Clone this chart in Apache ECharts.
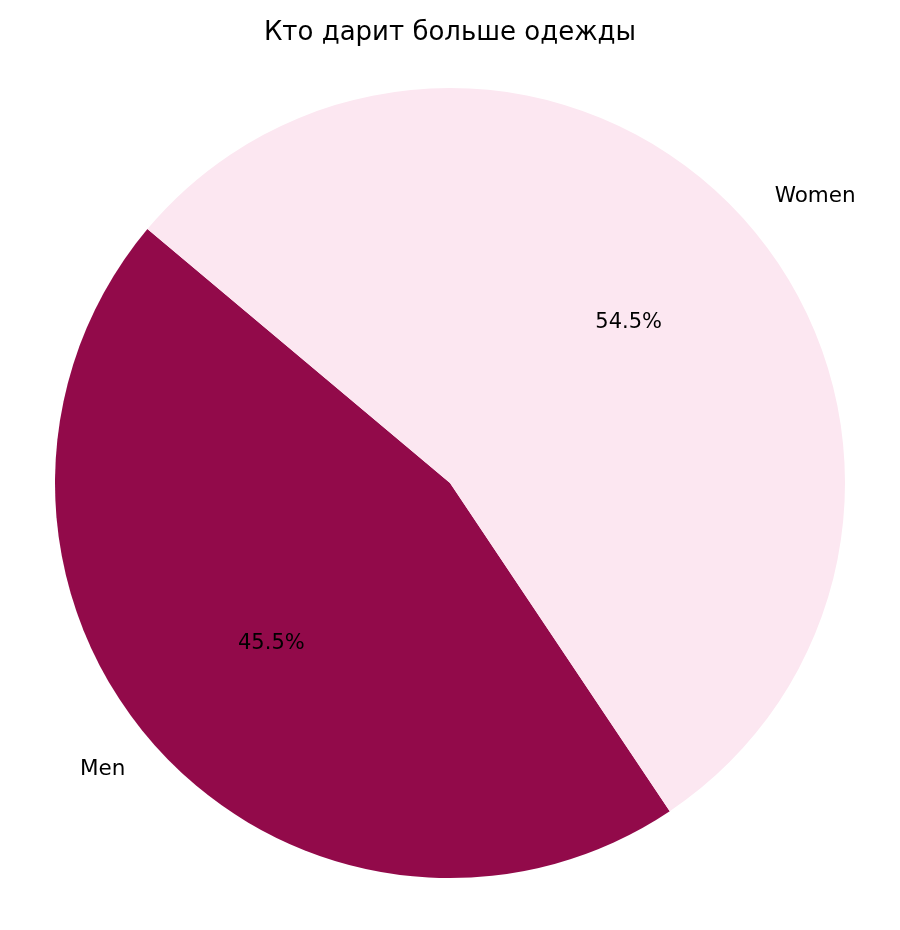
<!DOCTYPE html>
<html>
<head>
<meta charset="utf-8">
<script src="https://cdn.jsdelivr.net/npm/echarts@6/dist/echarts.min.js"></script>
<style>html,body{margin:0;padding:0;background:#fff}#chart{width:900px;height:930px}</style>
</head>
<body>
<div id="chart"></div>
<script>
const titleText = 'Кто дарит больше одежды';
const categories = ['Men', 'Women'];
const values = [45.5, 54.5];
const colors = ['#920a4a', '#fce7f1'];

const R = 395;
const cx = 450, cy = 483;
const font = 'DejaVu Sans';

const data = categories.map((c, i) => ({ name: c, value: values[i], itemStyle: { color: colors[i] } }));
const ghostData = categories.map((c, i) => ({ name: c, value: values[i] }));

const chart = echarts.init(document.getElementById('chart'), null, { renderer: 'canvas' });
chart.setOption({
  animation: false,
  backgroundColor: '#ffffff',
  title: {
    text: titleText,
    left: 'center',
    top: 15,
    textStyle: { fontFamily: font, fontSize: 26, fontWeight: 'normal', color: '#000' }
  },
  series: [
    {
      type: 'pie',
      center: [cx, cy],
      radius: [0, R],
      startAngle: 140,
      clockwise: false,
      avoidLabelOverlap: false,
      silent: true,
      itemStyle: { borderWidth: 0 },
      label: {
        show: true,
        position: 'outside',
        formatter: '{b}',
        fontFamily: font,
        fontSize: 21.5,
        color: '#000',
        alignTo: 'none'
      },
      labelLine: { show: false, length: 0.1 * R - 5, length2: 0 },
      data: data
    },
    {
      type: 'pie',
      center: [cx, cy],
      radius: [0, 1.2 * R],
      startAngle: 140,
      clockwise: false,
      silent: true,
      itemStyle: { color: 'rgba(0,0,0,0)', borderWidth: 0 },
      label: {
        show: true,
        position: 'inside',
        formatter: p => p.percent.toFixed(1) + '%',
        fontFamily: font,
        fontSize: 21,
        color: '#000'
      },
      labelLine: { show: false },
      data: ghostData
    }
  ]
});
</script>
</body>
</html>
